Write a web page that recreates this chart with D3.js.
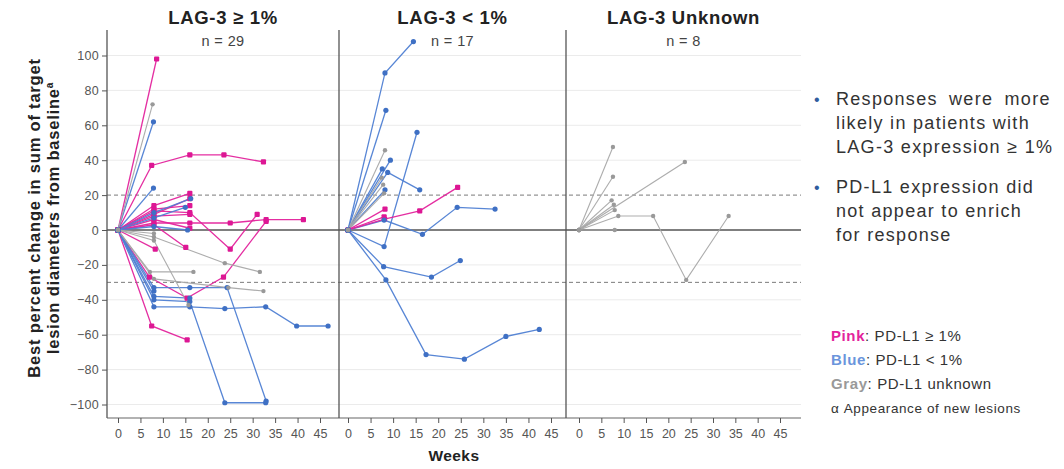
<!DOCTYPE html>
<html>
<head>
<meta charset="utf-8">
<script src="https://cdn.jsdelivr.net/npm/d3@7"></script>
<style>
  body { margin: 0; background: #fff; }
  svg text { font-family: "Liberation Sans", Arial, sans-serif; }
</style>
</head>
<body>
<div id="chart"></div>
<script>
// panel headers
var panelTitles = ["LAG-3 ≥ 1%", "LAG-3 < 1%", "LAG-3 Unknown"];
var panelN = ["n = 29", "n = 17", "n = 8"];

// axis ticks
var weekTicks = [0, 5, 10, 15, 20, 25, 30, 35, 40, 45];
var pctTicks = [-100, -80, -60, -40, -20, 0, 20, 40, 60, 80, 100];
var refLines = [20, -30];

// patients per panel: pdl1 status + [week, % change] points
var lag3Pos = [
  { pdl1: "pos", pts: [[0, 0], [8.6, 98]] },
  { pdl1: "pos", pts: [[0, 0], [7.5, 37], [16, 43], [23.6, 43], [32.4, 39]] },
  { pdl1: "pos", pts: [[0, 0], [8, 14], [16, 21]] },
  { pdl1: "pos", pts: [[0, 0], [8, 11], [16, 10], [25, -11], [31, 9]] },
  { pdl1: "pos", pts: [[0, 0], [7, -27], [15.4, -39], [23.5, -27], [33, 5]] },
  { pdl1: "pos", pts: [[0, 0], [7.5, -55], [15.4, -63]] },
  { pdl1: "pos", pts: [[0, 0], [8.3, -11]] },
  { pdl1: "pos", pts: [[0, 0], [8, 3], [15.1, -10]] },
  { pdl1: "pos", pts: [[0, 0], [8, 4], [16, 4], [25, 4], [33, 6], [41.3, 6]] },
  { pdl1: "pos", pts: [[0, 0], [8, 12], [16, 14]] },
  { pdl1: "pos", pts: [[0, 0], [8, 8], [16, 9]] },
  { pdl1: "pos", pts: [[0, 0], [8, 6], [16, 1]] },
  { pdl1: "pos", pts: [[0, 0], [8, 9], [16, 18]] },
  { pdl1: "neg", pts: [[0, 0], [7.9, 62]] },
  { pdl1: "neg", pts: [[0, 0], [7.9, 24]] },
  { pdl1: "neg", pts: [[0, 0], [8, 10], [16.2, 18]] },
  { pdl1: "neg", pts: [[0, 0], [8, 7], [15, 13]] },
  { pdl1: "neg", pts: [[0, 0], [8, -33], [16, -33], [24.3, -33], [33, -98]] },
  { pdl1: "neg", pts: [[0, 0], [8, -40], [16, -41], [23.8, -99], [32.9, -99]] },
  { pdl1: "neg", pts: [[0, 0], [8, -44], [16, -44], [23.8, -45], [32.9, -44], [39.8, -55], [46.8, -55]] },
  { pdl1: "neg", pts: [[0, 0], [8, -38], [16, -39]] },
  { pdl1: "neg", pts: [[0, 0], [8, -35]] },
  { pdl1: "neg", pts: [[0, 0], [8, 2], [15.5, 0]] },
  { pdl1: "unk", pts: [[0, 0], [7.7, 72]] },
  { pdl1: "unk", pts: [[0, 0], [8, -4], [23.8, -19], [31.6, -24]] },
  { pdl1: "unk", pts: [[0, 0], [7.1, -24], [16.8, -24]] },
  { pdl1: "unk", pts: [[0, 0], [8, -6], [15.7, -43]] },
  { pdl1: "unk", pts: [[0, 0], [8, -28], [24.6, -33], [32.4, -35]] },
  { pdl1: "unk", pts: [[0, 0], [8, -2]] }
];

var lag3Neg = [
  { pdl1: "neg", pts: [[0, 0], [8.2, 90], [14.5, 108]] },
  { pdl1: "neg", pts: [[0, 0], [8.4, 68.6]] },
  { pdl1: "neg", pts: [[0, 0], [8, -9.5], [15.3, 56]] },
  { pdl1: "neg", pts: [[0, 0], [9.4, 40]] },
  { pdl1: "neg", pts: [[0, 0], [7.6, 35]] },
  { pdl1: "neg", pts: [[0, 0], [8.8, 33], [15.9, 23]] },
  { pdl1: "neg", pts: [[0, 0], [8.2, 23]] },
  { pdl1: "neg", pts: [[0, 0], [8, 5.7], [16.5, -2.5], [24.2, 13], [32.6, 12]] },
  { pdl1: "neg", pts: [[0, 0], [7.9, -21], [18.5, -27], [24.9, -17.5]] },
  { pdl1: "neg", pts: [[0, 0], [8.4, -28.6], [17.3, -71.4], [25.8, -74], [35, -61], [42.4, -57]] },
  { pdl1: "unk", pts: [[0, 0], [8.2, 45.7]] },
  { pdl1: "unk", pts: [[0, 0], [7.5, 30]] },
  { pdl1: "unk", pts: [[0, 0], [7.8, 26]] },
  { pdl1: "unk", pts: [[0, 0], [8, 21]] },
  { pdl1: "pos", pts: [[0, 0], [8.2, 12]] },
  { pdl1: "pos", pts: [[0, 0], [8.1, 6.3], [15.9, 11], [24.3, 24.4]] },
  { pdl1: "pos", pts: [[0, 0], [8, 7.5]] }
];

var lag3Unk = [
  { pdl1: "unk", pts: [[0, 0], [7.6, 47.6]] },
  { pdl1: "unk", pts: [[0, 0], [7.6, 30.5]] },
  { pdl1: "unk", pts: [[0, 0], [23.7, 39]] },
  { pdl1: "unk", pts: [[0, 0], [7.3, 17]] },
  { pdl1: "unk", pts: [[0, 0], [7.8, 14.5]] },
  { pdl1: "unk", pts: [[0, 0], [8, 11.4]] },
  { pdl1: "unk", pts: [[0, 0], [8.8, 8], [16.6, 8], [24, -28.6], [33.5, 8]] },
  { pdl1: "unk", pts: [[0, 0], [8, 0]] }
];

// right side notes
var bulletLines = [
  ["Responses were more", "likely in patients with", "LAG-3 expression  ≥ 1%"],
  ["PD-L1 expression did", "not appear to enrich", "for response"]
];
var legendKeys = ["Pink", "Blue", "Gray"];
var legendLabels = [": PD-L1 ≥ 1%", ": PD-L1 < 1%", ": PD-L1 unknown"];

var colors = { pos: "#e3239c", neg: "#4f7fd3", unk: "#a8a8a8" };
var markColors = { pos: "#dd1794", neg: "#3f70c4", unk: "#999" };
var keyColors = ["#e3239c", "#6a95dc", "#999"];

var svgWidth = 1064;
var svgHeight = 469;

var svg = d3.select("#chart")
  .append("svg")
  .attr("width", svgWidth)
  .attr("height", svgHeight);

// plot frame
var plotTop = 30, plotBottom = 418;
var plotLeft = 107, plotRight = 801;
var panelLeft = [107, 339, 566];
var panelRight = [339, 566, 801];
var zeroX = [118, 348, 579];   // pixel of week 0 in each panel
var x45 = [320, 551, 780];     // pixel of week 45 in each panel

var y = d3.scaleLinear().domain([-100, 100]).range([404.5, 55.5]);

// grid lines
svg.append("g")
  .selectAll("line")
  .data(pctTicks.filter(d => d !== 0 && d !== 20))
  .enter()
  .append("line")
  .attr("x1", plotLeft).attr("x2", plotRight)
  .attr("y1", d => y(d)).attr("y2", d => y(d))
  .attr("stroke", "#ebebeb")
  .attr("stroke-width", 1);

// reference lines
svg.append("g")
  .selectAll("line")
  .data(refLines)
  .enter()
  .append("line")
  .attr("x1", plotLeft).attr("x2", plotRight)
  .attr("y1", d => y(d)).attr("y2", d => y(d))
  .attr("stroke", "#7a7a7a")
  .attr("stroke-width", 1)
  .attr("stroke-dasharray", "4,3");

svg.append("line")
  .attr("x1", plotLeft).attr("x2", plotRight)
  .attr("y1", y(0)).attr("y2", y(0))
  .attr("stroke", "#555")
  .attr("stroke-width", 1.3);

// y axis
var leftAxis = d3.axisLeft(y).tickValues(pctTicks).tickSize(5).tickPadding(3);
var yAxis = svg.append("g")
  .attr("transform", `translate(${plotLeft},0)`)
  .call(leftAxis);
yAxis.select(".domain").remove();
yAxis.selectAll("line").attr("stroke", "#555");
yAxis.selectAll("text")
  .attr("fill", "#555")
  .style("font-size", "12.5px")
  .attr("letter-spacing", "0.3px");

// bottom axis line
svg.append("line")
  .attr("x1", plotLeft).attr("x2", plotRight)
  .attr("y1", plotBottom).attr("y2", plotBottom)
  .attr("stroke", "#666")
  .attr("stroke-width", 1.2);

// panel separators
svg.append("g")
  .selectAll("line")
  .data(panelLeft)
  .enter()
  .append("line")
  .attr("x1", d => d).attr("x2", d => d)
  .attr("y1", plotTop).attr("y2", plotBottom)
  .attr("stroke", "#555")
  .attr("stroke-width", 1.3);

var panelData = [lag3Pos, lag3Neg, lag3Unk];

panelData.forEach(function(patients, i) {
  var x = d3.scaleLinear().domain([0, 45]).range([zeroX[i], x45[i]]);

  var bottomAxis = d3.axisBottom(x).tickValues(weekTicks).tickSize(5).tickPadding(6);
  var xAxis = svg.append("g")
    .attr("transform", `translate(0,${plotBottom})`)
    .call(bottomAxis);
  xAxis.select(".domain").remove();
  xAxis.selectAll("line").attr("stroke", "#555");
  xAxis.selectAll("text")
    .attr("fill", "#555")
    .style("font-size", "12.5px");

  var cx = (panelLeft[i] + panelRight[i]) / 2;
  svg.append("text")
    .attr("x", cx).attr("y", 24)
    .attr("text-anchor", "middle")
    .attr("font-weight", "bold")
    .attr("fill", "#222")
    .attr("letter-spacing", "0.7px")
    .style("font-size", "18.5px")
    .text(panelTitles[i]);
  svg.append("text")
    .attr("x", cx).attr("y", 46)
    .attr("text-anchor", "middle")
    .attr("fill", "#444")
    .attr("letter-spacing", "0.4px")
    .style("font-size", "14.5px")
    .text(panelN[i]);

  var line = d3.line().x(d => x(d[0])).y(d => y(d[1]));
  var g = svg.append("g");

  g.selectAll("path")
    .data(patients)
    .enter()
    .append("path")
    .attr("d", d => line(d.pts))
    .attr("fill", "none")
    .attr("stroke", d => colors[d.pdl1])
    .attr("stroke-width", d => d.pdl1 === "unk" ? 1.1 : 1.3)
    .attr("opacity", 0.95);

  var marks = [];
  patients.forEach(function(p) {
    p.pts.forEach(function(pt) { marks.push({ pdl1: p.pdl1, w: pt[0], v: pt[1] }); });
  });

  g.selectAll("rect")
    .data(marks.filter(d => d.pdl1 === "pos"))
    .enter()
    .append("rect")
    .attr("x", d => x(d.w) - 2.6)
    .attr("y", d => y(d.v) - 2.6)
    .attr("width", 5.2).attr("height", 5.2)
    .attr("rx", 1)
    .attr("fill", d => markColors[d.pdl1]);

  g.selectAll("circle")
    .data(marks.filter(d => d.pdl1 !== "pos"))
    .enter()
    .append("circle")
    .attr("cx", d => x(d.w))
    .attr("cy", d => y(d.v))
    .attr("r", d => d.pdl1 === "unk" ? 2.2 : 2.6)
    .attr("fill", d => markColors[d.pdl1]);
});

// axis titles
svg.append("text")
  .attr("x", (plotLeft + plotRight) / 2).attr("y", 461)
  .attr("text-anchor", "middle")
  .attr("font-weight", "bold")
  .attr("fill", "#222")
  .attr("letter-spacing", "0.4px")
  .style("font-size", "15.5px")
  .text("Weeks");

var yTitle = svg.append("g")
  .attr("transform", "translate(0,218) rotate(-90)");
yTitle.append("text")
  .attr("x", 0).attr("y", 40)
  .attr("text-anchor", "middle")
  .attr("font-weight", "bold")
  .attr("fill", "#222")
  .attr("letter-spacing", "0.8px")
  .style("font-size", "16.5px")
  .text("Best percent change in sum of target");
var t2 = yTitle.append("text")
  .attr("x", 0).attr("y", 59)
  .attr("text-anchor", "middle")
  .attr("font-weight", "bold")
  .attr("fill", "#222")
  .attr("letter-spacing", "0.8px")
  .style("font-size", "16.5px");
t2.append("tspan").text("lesion diameters from baseline");
t2.append("tspan").attr("dy", -6).style("font-size", "10px").text("a");

// right side notes (first line of first bullet is set a bit wider)
var noteTop = [105, 193];
bulletLines.forEach(function(lines, i) {
  svg.append("text")
    .attr("x", 814).attr("y", noteTop[i])
    .attr("fill", "#2f5c9e")
    .style("font-size", "16px")
    .text("•");
  svg.selectAll(null)
    .data(lines)
    .enter()
    .append("text")
    .attr("x", 836)
    .attr("y", (d, j) => noteTop[i] + j * 24)
    .attr("fill", "#333")
    .attr("letter-spacing", "1.3px")
    .attr("word-spacing", (d, j) => (i === 0 && j === 0) ? "5px" : "0px")
    .style("font-size", "18px")
    .text(d => d);
});

legendKeys.forEach(function(k, i) {
  var t = svg.append("text")
    .attr("x", 831).attr("y", 341 + i * 24)
    .attr("letter-spacing", "0.6px")
    .style("font-size", "15px");
  t.append("tspan")
    .attr("font-weight", "bold")
    .attr("fill", keyColors[i])
    .text(k);
  t.append("tspan").attr("fill", "#333").text(legendLabels[i]);
});

svg.append("text")
  .attr("x", 831).attr("y", 413)
  .attr("fill", "#333")
  .attr("letter-spacing", "0.6px")
  .style("font-size", "13.5px")
  .text("α Appearance of new lesions");
</script>
</body>
</html>
